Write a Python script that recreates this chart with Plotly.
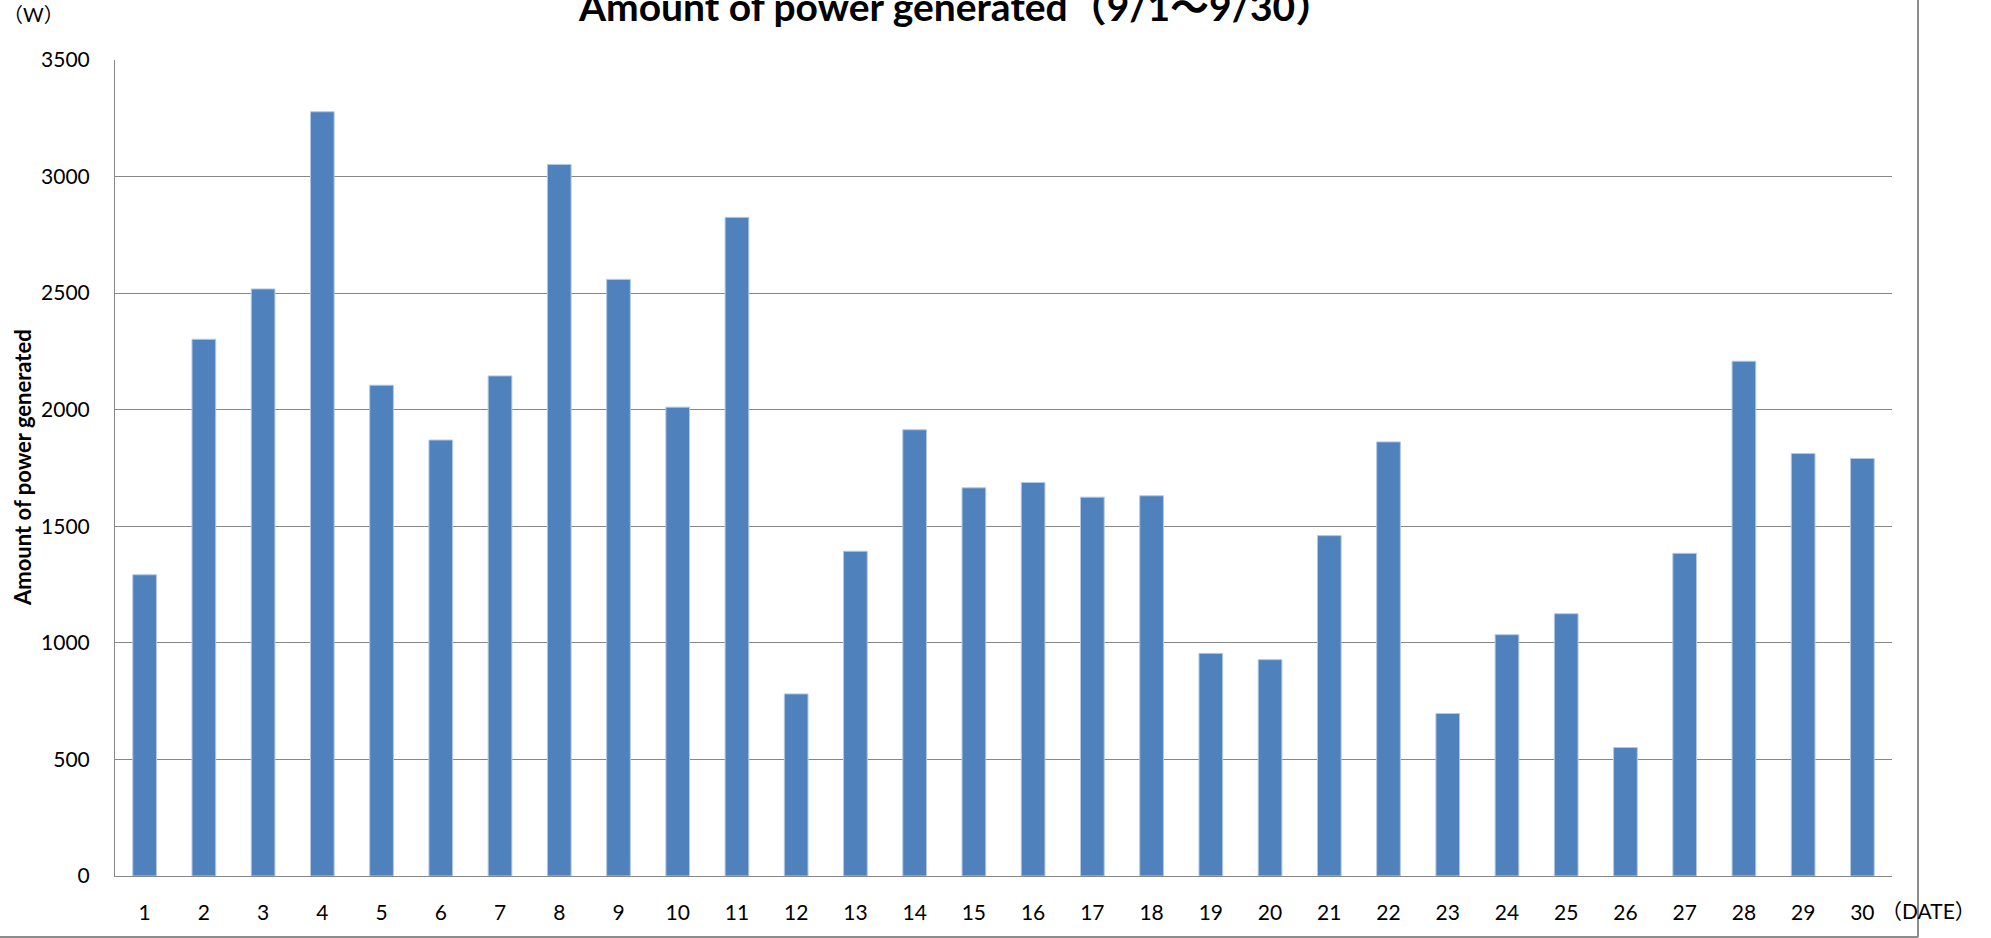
import plotly.graph_objects as go

dates = [str(i) for i in range(1, 31)]
power = [1292, 2302, 2518, 3278, 2105, 1870, 2145, 3052, 2559, 2011,
         2825, 781, 1393, 1914, 1665, 1688, 1625, 1631, 955, 928,
         1460, 1862, 697, 1035, 1125, 551, 1384, 2208, 1812, 1791]
y_ticks = [0, 500, 1000, 1500, 2000, 2500, 3000, 3500]

title_text = "Amount of power generated（9/1～9/30）"
y_title = "Amount of power generated"
unit_text = "（W）"
x_unit_text = "（DATE）"

FONT = "Lato, 'Noto Sans CJK JP', sans-serif"
GRID = "#878787"

fig = go.Figure(go.Bar(
    x=dates, y=power,
    marker=dict(color="#4F81BD", line=dict(color="#B4C8E2", width=1)),
))

W, H = 1991, 938
L, R, T, B = 115, 99, 60, 62
pw, ph = W - L - R, H - T - B

def px_x(x):
    return (x - L) / pw

def px_y(y):
    return (H - B - y) / ph

fig.update_layout(
    width=W, height=H,
    margin=dict(l=L, r=R, t=T, b=B, pad=0),
    paper_bgcolor="white", plot_bgcolor="white",
    bargap=0.6, showlegend=False,
    font=dict(family=FONT, size=21, color="#000000"),
    xaxis=dict(
        type="category", showgrid=False, showline=True, linecolor=GRID, linewidth=1,
        ticks="", ticklabelstandoff=18, tickfont=dict(size=21),
    ),
    yaxis=dict(
        range=[0, 3500], tickvals=y_ticks, showgrid=True, gridcolor=GRID, gridwidth=1,
        showline=True, linecolor=GRID, linewidth=1, zeroline=False,
        ticks="", ticklabelstandoff=20, tickfont=dict(size=21),
    ),
    annotations=[
        dict(text="<b>" + title_text + "</b>", xref="paper", yref="paper",
             x=px_x(956), y=px_y(6), xanchor="center", yanchor="middle",
             showarrow=False, font=dict(size=39, family=FONT)),
        dict(text="<b>" + y_title + "</b>", xref="paper", yref="paper",
             x=px_x(22), y=0.5, xanchor="center", yanchor="middle", textangle=-90,
             showarrow=False, font=dict(size=22, family=FONT)),
        dict(text=unit_text, xref="paper", yref="paper",
             x=px_x(33), y=px_y(14), xanchor="center", yanchor="middle",
             showarrow=False, font=dict(size=20, family=FONT)),
        dict(text=x_unit_text, xref="paper", yref="paper",
             x=px_x(1928), y=px_y(910), xanchor="center", yanchor="middle",
             showarrow=False, font=dict(size=21, family=FONT)),
    ],
    shapes=[
        dict(type="line", xref="paper", yref="paper",
             x0=px_x(1918), x1=px_x(1918), y0=px_y(0), y1=px_y(937),
             line=dict(color="#8C8C8C", width=2)),
        dict(type="line", xref="paper", yref="paper",
             x0=px_x(0), x1=px_x(1918), y0=px_y(937), y1=px_y(937),
             line=dict(color="#8C8C8C", width=2)),
    ],
)

fig.write_html(
    "out.html",
    config={"displayModeBar": False},
    post_script="document.body.style.margin='0';document.body.style.overflow='hidden';",
)
